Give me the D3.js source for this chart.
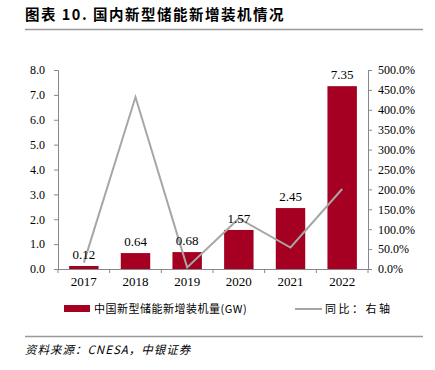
<!DOCTYPE html>
<html>
<head>
<meta charset="utf-8">
<script src="https://cdn.jsdelivr.net/npm/d3@7"></script>
<style>
  body { margin: 0; background: #fff; }
</style>
</head>
<body>
<div id="canvas"></div>
<script>
// chart data
var years = ["2017", "2018", "2019", "2020", "2021", "2022"];
var capacity = [0.12, 0.64, 0.68, 1.57, 2.45, 7.35];
var yoy = [16, 432, 4, 127, 54, 201];
var leftTicks = [0, 1, 2, 3, 4, 5, 6, 7, 8];
var rightTicks = [0, 50, 100, 150, 200, 250, 300, 350, 400, 450, 500];

var w = 435, h = 370;
var margin = {top: 70, right: 67, bottom: 101, left: 58};
var serif = "'Liberation Serif', 'Times New Roman', serif";
var cjk = "'Noto Sans CJK SC', sans-serif";

var svg = d3.select("#canvas")
    .append("svg")
    .attr("width", w)
    .attr("height", h)
    .style("background-color", "white");

// title + rules
svg.append("text")
    .attr("x", 25).attr("y", 20)
    .style("font-family", cjk)
    .style("font-weight", "bold")
    .style("font-size", "14.5px")
    .style("letter-spacing", "1.5px")
    .text("图表 10. 国内新型储能新增装机情况");

svg.append("line")
    .attr("x1", 25).attr("x2", 423).attr("y1", 29.5).attr("y2", 29.5)
    .attr("stroke", "#999").attr("stroke-width", 1.5);

svg.append("line")
    .attr("x1", 25).attr("x2", 423).attr("y1", 336.5).attr("y2", 336.5)
    .attr("stroke", "#999").attr("stroke-width", 1.5);

svg.append("text")
    .attr("x", 25).attr("y", 354)
    .style("font-family", cjk)
    .style("font-style", "italic")
    .style("font-size", "11.5px")
    .style("letter-spacing", "1px")
    .text("资料来源：CNESA，中银证券");

// scales
var x_scale = d3.scaleBand()
    .domain(years)
    .range([margin.left, w - margin.right])
    .paddingInner(0.43)
    .paddingOuter(0.215);

var y_left = d3.scaleLinear()
    .domain([0, 8])
    .range([h - margin.bottom, margin.top]);

var y_right = d3.scaleLinear()
    .domain([0, 500])
    .range([h - margin.bottom, margin.top]);

var x0 = margin.left, x1 = w - margin.right, yBase = h - margin.bottom;

// bars
svg.selectAll("rect.bar")
    .data(capacity)
    .join("rect")
    .attr("class", "bar")
    .attr("x", (d, i) => x_scale(years[i]))
    .attr("width", x_scale.bandwidth())
    .attr("y", d => y_left(d))
    .attr("height", d => yBase - y_left(d))
    .attr("fill", "#A50021");

// line
var line = d3.line()
    .x((d, i) => x_scale(years[i]) + x_scale.bandwidth() / 2)
    .y(d => y_right(d));

svg.append("path")
    .datum(yoy)
    .attr("d", line)
    .attr("fill", "none")
    .attr("stroke", "#A6A6A6")
    .attr("stroke-width", 2);

// data labels
svg.selectAll("text.lbl")
    .data(capacity)
    .join("text")
    .attr("class", "lbl")
    .attr("x", (d, i) => x_scale(years[i]) + x_scale.bandwidth() / 2)
    .attr("y", d => y_left(d) - 7)
    .attr("text-anchor", "middle")
    .style("font-family", serif)
    .style("font-size", "13px")
    .text(d => d.toFixed(2));

// axes
var axisColor = "#888";

var gl = svg.append("g")
    .attr("transform", `translate(${x0},0)`)
    .call(d3.axisLeft(y_left).tickValues(leftTicks).tickSize(4).tickPadding(9).tickFormat(d3.format(".1f")));

var gr = svg.append("g")
    .attr("transform", `translate(${x1},0)`)
    .call(d3.axisRight(y_right).tickValues(rightTicks).tickSize(4).tickPadding(6).tickFormat(d => d.toFixed(1) + "%"));

var gb = svg.append("g")
    .attr("transform", `translate(0,${yBase})`)
    .call(d3.axisBottom(x_scale).tickSize(0).tickPadding(8));

// category separators on the bottom axis
var step = x_scale.step();
gb.selectAll("line.sep")
    .data(d3.range(years.length + 1))
    .join("line")
    .attr("class", "sep")
    .attr("x1", i => x0 + i * step)
    .attr("x2", i => x0 + i * step)
    .attr("y1", 0).attr("y2", 4)
    .attr("stroke", axisColor);

[gl, gr, gb].forEach(g => {
    g.selectAll(".domain").attr("stroke", axisColor);
    g.selectAll(".tick line").attr("stroke", axisColor);
    g.selectAll("text")
        .style("font-family", serif)
        .style("font-size", "12px")
        .attr("fill", "#000");
});
gb.select(".domain").attr("d", `M${x0},0.5H${x1}`);
gb.selectAll(".tick text").style("font-size", "13px");

// legend
var lg = svg.append("g").attr("transform", "translate(0,309)");
lg.append("rect")
    .attr("x", 64).attr("y", -4).attr("width", 26).attr("height", 7)
    .attr("fill", "#A50021");
lg.append("text")
    .attr("x", 94).attr("y", 4)
    .style("font-family", cjk)
    .style("font-size", "11px")
    .style("letter-spacing", "0.5px")
    .text("中国新型储能新增装机量(GW)");
lg.append("line")
    .attr("x1", 295).attr("x2", 322).attr("y1", 0).attr("y2", 0)
    .attr("stroke", "#A6A6A6").attr("stroke-width", 2);
lg.append("text")
    .attr("x", 325).attr("y", 4)
    .style("font-family", cjk)
    .style("font-size", "11px")
    .style("letter-spacing", "2.5px")
    .text("同比：右轴");
</script>
</body>
</html>
